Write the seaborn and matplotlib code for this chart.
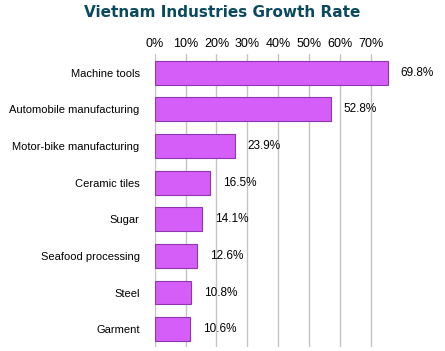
import pandas as pd
import seaborn as sns
import matplotlib.pyplot as plt

industries = ['Machine tools', 'Automobile manufacturing', 'Motor-bike manufacturing',
              'Ceramic tiles', 'Sugar', 'Seafood processing', 'Steel', 'Garment']
growth = [69.8, 52.8, 23.9, 16.5, 14.1, 12.6, 10.8, 10.6]
tick_values = [0, 10, 20, 30, 40, 50, 60, 70]

df = pd.DataFrame({'Industry': industries, 'Growth': growth})

sns.set_style('white')
plt.rcParams['font.family'] = ['Liberation Sans', 'DejaVu Sans']
plt.rcParams['text.color'] = 'black'
plt.rcParams['xtick.color'] = 'black'
plt.rcParams['ytick.color'] = 'black'
fig = plt.figure(figsize=(4.45, 3.51), dpi=100)
ax = fig.add_axes([0.348, 0.01, 0.63, 0.835])

# back wall with the percentage grid (slightly compressed, like the perspective)
ax_bg = ax.twiny()
ax_bg.set_xlim(0, 91)
ax_bg.set_xticks(tick_values)
ax_bg.set_xticklabels([f'{v}%' for v in tick_values], fontsize=9)
ax_bg.xaxis.set_ticks_position('top')
ax_bg.tick_params(axis='x', length=0, pad=3)
ax_bg.grid(axis='x', color='#c4c4c4', linewidth=1)
for s in ax_bg.spines.values():
    s.set_visible(False)
ax_bg.set_zorder(1)
ax.set_zorder(2)
ax.patch.set_visible(False)

sns.barplot(data=df, x='Growth', y='Industry', orient='h', ax=ax,
            color='#d65ef8', saturation=1, width=0.65,
            edgecolor='#8e36b0', linewidth=0.8)
ax.set_xlim(0, 84)
ax.set_ylim(7.5, -0.5)
ax.set_xlabel('')
ax.set_ylabel('')
ax.set_xticks([])
ax.tick_params(axis='y', length=0, pad=11, labelsize=8)
for s in ax.spines.values():
    s.set_visible(False)

for i, v in enumerate(growth):
    ax.text(v + 3.8, i, f'{v}%', va='center', ha='left', fontsize=8.5)

fig.text(0.5, 0.965, 'Vietnam Industries Growth Rate', ha='center', va='center',
         fontsize=11, fontweight='bold', color='#0b4a5e', family='DejaVu Sans')

fig.savefig('out.png', dpi=100)
